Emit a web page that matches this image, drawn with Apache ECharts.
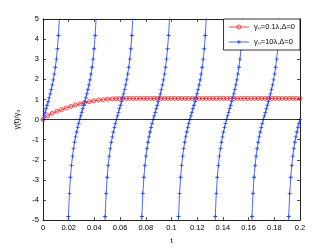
<!DOCTYPE html>
<html>
<head>
<meta charset="utf-8">
<script src="https://cdn.jsdelivr.net/npm/echarts@6/dist/echarts.min.js"></script>
<style>
html,body{margin:0;padding:0;background:#fff;}
#c{width:332px;height:250px;}
</style>
</head>
<body>
<div id="c"></div>
<script>
// ---------- data ----------
const xTicks = [0, 0.02, 0.04, 0.06, 0.08, 0.1, 0.12, 0.14, 0.16, 0.18, 0.2];
const yTicks = [-5, -4, -3, -2, -1, 0, 1, 2, 3, 4, 5];

const redName = 'γ₀=0.1λ,Δ=0';
const blueName = 'γ₀=10λ,Δ=0';

const redT = [0,0.0036,0.0072,0.0108,0.0144,0.018,0.0216,0.0252,0.0288,0.0324,0.036,0.0396,0.0432,0.0468,0.0504,0.054,
  0.0567,0.0594,0.0621,0.0648,0.0675,0.0702,0.0729,0.0756,0.0783,0.081,0.0837,0.0864,0.0891,0.0918,0.0945,0.0972,0.0999,
  0.1026,0.1053,0.108,0.1107,0.1134,0.1161,0.1188,0.1215,0.1242,0.1269,0.1296,0.1323,0.135,0.1377,0.1404,0.1431,0.1458,
  0.1485,0.1512,0.1539,0.1566,0.1593,0.162,0.1647,0.1674,0.1701,0.1728,0.1755,0.1782,0.1809,0.1836,0.1863,0.189,0.1917,
  0.1944,0.1971,0.2];
const redY = [0,0.19,0.31,0.41,0.49,0.57,0.65,0.72,0.78,0.84,0.89,0.93,0.97,0.99,1.01,1.03,
  1.04,1.04,1.05,1.05,1.05,1.05,1.05,1.05,1.05,1.05,1.05,1.05,1.05,1.05,1.05,1.05,1.05,
  1.05,1.05,1.05,1.05,1.05,1.05,1.05,1.05,1.05,1.05,1.05,1.05,1.05,1.05,1.05,1.05,1.05,
  1.05,1.05,1.05,1.05,1.05,1.05,1.05,1.05,1.05,1.05,1.05,1.05,1.05,1.05,1.05,1.05,1.05,
  1.05,1.05,1.05];

// blue branches (each branch of the periodic curve)
const blueT1 = [0,0.0008,0.0016,0.0024,0.0032,0.004,0.0048,0.0056,0.0064,0.0072,0.008,0.0088,0.0096,0.0104,0.0112,0.012,0.0128,0.0136];
const blueY1 = [0,0.18,0.36,0.54,0.71,0.89,1.08,1.28,1.49,1.72,1.97,2.26,2.60,3.00,3.52,4.18,5.10,6.49];

const blueT2 = [0.01897,0.01977,0.02057,0.02137,0.02217,0.02297,0.02377,0.02457,0.02537,0.02617,0.02697,0.02777,0.02857,0.02937,0.03017,0.03097,0.03177,0.03257,0.03337,0.03417,0.03497,0.03577,0.03657,0.03737,0.03817,0.03897,0.03977,0.04057,0.04137,0.04217];
const blueY2 = [-6.68,-4.82,-3.67,-2.87,-2.28,-1.82,-1.45,-1.13,-0.86,-0.62,-0.39,-0.19,0,0.18,0.36,0.54,0.71,0.89,1.08,1.28,1.49,1.72,1.97,2.26,2.60,3.00,3.52,4.18,5.10,6.49];

const blueT3 = [0.04754,0.04834,0.04914,0.04994,0.05074,0.05154,0.05234,0.05314,0.05394,0.05474,0.05554,0.05634,0.05714,0.05794,0.05874,0.05954,0.06034,0.06114,0.06194,0.06274,0.06354,0.06434,0.06514,0.06594,0.06674,0.06754,0.06834,0.06914,0.06994,0.07074];
const blueY3 = [-6.68,-4.82,-3.67,-2.87,-2.28,-1.82,-1.45,-1.13,-0.86,-0.62,-0.39,-0.19,0,0.18,0.36,0.54,0.71,0.89,1.08,1.28,1.49,1.72,1.97,2.26,2.60,3.00,3.52,4.18,5.10,6.49];

const blueT4 = [0.07611,0.07691,0.07771,0.07851,0.07931,0.08011,0.08091,0.08171,0.08251,0.08331,0.08411,0.08491,0.08571,0.08651,0.08731,0.08811,0.08891,0.08971,0.09051,0.09131,0.09211,0.09291,0.09371,0.09451,0.09531,0.09611,0.09691,0.09771,0.09851,0.09931];
const blueY4 = [-6.68,-4.82,-3.67,-2.87,-2.28,-1.82,-1.45,-1.13,-0.86,-0.62,-0.39,-0.19,0,0.18,0.36,0.54,0.71,0.89,1.08,1.28,1.49,1.72,1.97,2.26,2.60,3.00,3.52,4.18,5.10,6.49];

const blueT5 = [0.10469,0.10549,0.10629,0.10709,0.10789,0.10869,0.10949,0.11029,0.11109,0.11189,0.11269,0.11349,0.11429,0.11509,0.11589,0.11669,0.11749,0.11829,0.11909,0.11989,0.12069,0.12149,0.12229,0.12309,0.12389,0.12469,0.12549,0.12629,0.12709,0.12789];
const blueY5 = [-6.68,-4.82,-3.67,-2.87,-2.28,-1.82,-1.45,-1.13,-0.86,-0.62,-0.39,-0.19,0,0.18,0.36,0.54,0.71,0.89,1.08,1.28,1.49,1.72,1.97,2.26,2.60,3.00,3.52,4.18,5.10,6.49];

const blueT6 = [0.13326,0.13406,0.13486,0.13566,0.13646,0.13726,0.13806,0.13886,0.13966,0.14046,0.14126,0.14206,0.14286,0.14366,0.14446,0.14526,0.14606,0.14686,0.14766,0.14846,0.14926,0.15006,0.15086,0.15166,0.15246,0.15326,0.15406,0.15486,0.15566,0.15646];
const blueY6 = [-6.68,-4.82,-3.67,-2.87,-2.28,-1.82,-1.45,-1.13,-0.86,-0.62,-0.39,-0.19,0,0.18,0.36,0.54,0.71,0.89,1.08,1.28,1.49,1.72,1.97,2.26,2.60,3.00,3.52,4.18,5.10,6.49];

const blueT7 = [0.16183,0.16263,0.16343,0.16423,0.16503,0.16583,0.16663,0.16743,0.16823,0.16903,0.16983,0.17063,0.17143,0.17223,0.17303,0.17383,0.17463,0.17543,0.17623,0.17703,0.17783,0.17863,0.17943,0.18023,0.18103,0.18183,0.18263,0.18343,0.18423,0.18503];
const blueY7 = [-6.68,-4.82,-3.67,-2.87,-2.28,-1.82,-1.45,-1.13,-0.86,-0.62,-0.39,-0.19,0,0.18,0.36,0.54,0.71,0.89,1.08,1.28,1.49,1.72,1.97,2.26,2.60,3.00,3.52,4.18,5.10,6.49];

const blueT8 = [0.1904,0.1912,0.192,0.1928,0.1936,0.1944,0.1952,0.196,0.1968,0.1976,0.1984,0.1992,0.2];
const blueY8 = [-6.68,-4.82,-3.67,-2.87,-2.28,-1.82,-1.45,-1.13,-0.86,-0.62,-0.39,-0.19,0];

// ---------- build series data ----------
const redData = redT.map((t, i) => [t, redY[i]]);
const blueBranches = [[blueT1, blueY1],[blueT2, blueY2],[blueT3, blueY3],[blueT4, blueY4],
                      [blueT5, blueY5],[blueT6, blueY6],[blueT7, blueY7],[blueT8, blueY8]];
const blueData = [];
blueBranches.forEach(([ts, ys], b) => {
  ts.forEach((t, i) => blueData.push([t, ys[i]]));
  if (b < blueBranches.length - 1) blueData.push([null, null]);
});

const FONT = 'Liberation Sans, Arial, DejaVu Sans, sans-serif';
const FS = 7.5;
const AX = '#222';
const RED = '#ff1a1a';
const BLUE = '#2244ff';
const plusPath = 'path://M4,0H6V4H10V6H6V10H4V6H0V4H4Z';

const chart = echarts.init(document.getElementById('c'), null, {renderer: 'canvas'});
const fmtX = v => String(parseFloat(Number(v).toFixed(2)));

chart.setOption({
  animation: false,
  backgroundColor: '#fff',
  textStyle: {fontFamily: FONT},
  grid: {left: 43, right: 32, top: 19, bottom: 28, containLabel: false},
  legend: {
    right: 32, top: 19,
    orient: 'vertical',
    data: [
      {name: redName,
       itemStyle: {color: 'rgba(255,255,255,0)', borderColor: RED, borderWidth: 0.8},
       lineStyle: {color: RED, width: 0.8}},
      {name: blueName,
       itemStyle: {color: BLUE, borderWidth: 0},
       lineStyle: {color: BLUE, width: 0.8}}
    ],
    backgroundColor: '#fff',
    borderColor: '#000',
    borderWidth: 0.8,
    borderRadius: 0,
    padding: [4, 5, 4, 5],
    itemGap: 7,
    itemWidth: 20,
    itemHeight: 5,
    textStyle: {fontFamily: FONT, fontSize: FS, color: '#000', padding: [0, 0, 0, 0]}
  },
  xAxis: [{
    type: 'value', min: 0, max: 0.2, interval: 0.02,
    name: 't', nameLocation: 'middle', nameGap: 11,
    nameTextStyle: {fontFamily: FONT, fontSize: FS, color: '#000'},
    axisLine: {show: true, onZero: false, lineStyle: {color: AX, width: 1}},
    axisTick: {show: true, inside: true, length: 3, lineStyle: {color: AX, width: 0.8}},
    axisLabel: {fontFamily: FONT, fontSize: FS, color: '#000', margin: 4, formatter: fmtX},
    splitLine: {show: false}
  }, {
    type: 'value', min: 0, max: 0.2, interval: 0.02, position: 'top',
    axisLine: {show: true, onZero: false, lineStyle: {color: AX, width: 1}},
    axisTick: {show: true, inside: true, length: 3, lineStyle: {color: AX, width: 0.8}},
    axisLabel: {show: false},
    splitLine: {show: false}
  }],
  yAxis: [{
    type: 'value', min: -5, max: 5, interval: 1,
    name: 'γ(t)/γ₀', nameLocation: 'middle', nameGap: 11, nameRotate: 90,
    nameTextStyle: {fontFamily: FONT, fontSize: FS, color: '#000'},
    axisLine: {show: true, onZero: false, lineStyle: {color: AX, width: 1}},
    axisTick: {show: true, inside: true, length: 3, lineStyle: {color: AX, width: 0.8}},
    axisLabel: {fontFamily: FONT, fontSize: FS, color: '#000', margin: 4},
    splitLine: {show: false}
  }, {
    type: 'value', min: -5, max: 5, interval: 1, position: 'right',
    axisLine: {show: true, onZero: false, lineStyle: {color: AX, width: 1}},
    axisTick: {show: true, inside: true, length: 3, lineStyle: {color: AX, width: 0.8}},
    axisLabel: {show: false},
    splitLine: {show: false}
  }],
  series: [{
    name: redName,
    type: 'line',
    data: redData,
    xAxisIndex: 0, yAxisIndex: 0,
    symbol: 'circle',
    symbolSize: 4,
    showAllSymbol: true,
    lineStyle: {color: RED, width: 0.8},
    itemStyle: {color: 'rgba(255,255,255,0)', borderColor: RED, borderWidth: 0.8},
    clip: true,
    markLine: {
      silent: true,
      symbol: ['none', 'none'],
      label: {show: false},
      lineStyle: {color: '#000', width: 0.8, type: 'solid'},
      data: [{yAxis: 0}]
    }
  }, {
    name: blueName,
    type: 'line',
    data: blueData,
    xAxisIndex: 0, yAxisIndex: 0,
    connectNulls: false,
    symbol: plusPath,
    symbolSize: 4,
    showAllSymbol: true,
    lineStyle: {color: BLUE, width: 0.8},
    itemStyle: {color: BLUE},
    clip: true
  }]
});
</script>
</body>
</html>
